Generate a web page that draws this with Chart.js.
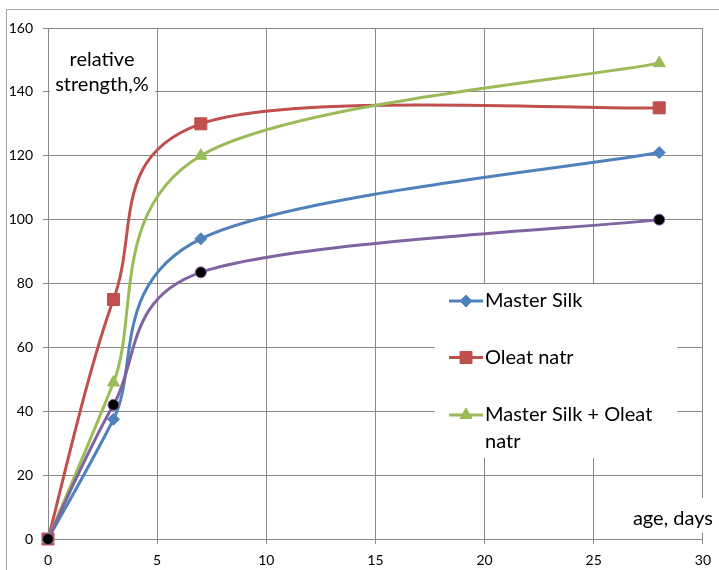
<!DOCTYPE html>
<html>
<head>
<meta charset="utf-8">
<title>relative strength</title>
<script src="https://cdn.jsdelivr.net/npm/chart.js@4.4.1/dist/chart.umd.min.js"></script>
<style>
  html, body { margin: 0; padding: 0; background: #fff; }
  #chart { display: block; }
</style>
</head>
<body>
<canvas id="chart" width="719" height="570"></canvas>
<script>
(function () {
  var days = [0, 3, 7, 28];
  var masterSilk = [0, 37.5, 94, 121];
  var oleatNatr = [0, 75, 130, 135];
  var masterSilkOleat = [0, 49, 120, 149];
  var reference = [0, 42, 83.5, 100];

  var xTicks = [0, 5, 10, 15, 20, 25, 30];
  var yTicks = [0, 20, 40, 60, 80, 100, 120, 140, 160];

  var yTitleLines = ["relative", "strength,%"];
  var xTitle = "age, days";

  var FONT = "Lato, 'Open Sans', sans-serif";
  var GRID = "#898989";

  function points(values) {
    return days.map(function (d, i) {
      return { x: d, y: values[i] };
    });
  }

  /** Excel-like smoothing: arms are (next - prev) / 6, capped at half the segment. */
  var excelSmooth = {
    id: "excelSmooth",
    beforeDatasetDraw: function (chart, args) {
      var meta = args.meta;
      var pts = meta.data;
      if (!meta.dataset || !pts.length) return;
      meta.dataset.updateControlPoints(chart.chartArea, meta.iScale.axis);
      var n = pts.length;
      for (var i = 0; i < n; i++) {
        var p = pts[i];
        var prev = pts[Math.max(i - 1, 0)];
        var next = pts[Math.min(i + 1, n - 1)];
        var dx = (next.x - prev.x) / 6;
        var dy = (next.y - prev.y) / 6;
        var arm = Math.sqrt(dx * dx + dy * dy);
        var halfPrev = Math.sqrt(Math.pow(p.x - prev.x, 2) + Math.pow(p.y - prev.y, 2)) / 2;
        var halfNext = Math.sqrt(Math.pow(next.x - p.x, 2) + Math.pow(next.y - p.y, 2)) / 2;
        var kPrev = arm > halfPrev && arm > 0 ? halfPrev / arm : 1;
        var kNext = arm > halfNext && arm > 0 ? halfNext / arm : 1;
        p.cp1x = p.x - dx * kPrev;
        p.cp1y = p.y - dy * kPrev;
        p.cp2x = p.x + dx * kNext;
        p.cp2y = p.y + dy * kNext;
      }
    },
  };

  var frame = {
    id: "frame",
    beforeDraw: function (chart) {
      var ctx = chart.ctx;
      ctx.save();
      ctx.fillStyle = "#fff";
      ctx.fillRect(0, 0, chart.width, chart.height);
      ctx.strokeStyle = "#a6a6a6";
      ctx.lineWidth = 1;
      ctx.strokeRect(6.5, 9.5, chart.width + 20, chart.height + 20);
      ctx.restore();
    },
  };

  function wrapText(ctx, text, maxWidth) {
    var words = text.split(" ");
    var lines = [];
    var cur = "";
    words.forEach(function (w) {
      var test = cur ? cur + " " + w : w;
      if (cur && ctx.measureText(test).width > maxWidth) {
        lines.push(cur);
        cur = w;
      } else {
        cur = test;
      }
    });
    if (cur) lines.push(cur);
    return lines;
  }

  var labelsAndLegend = {
    id: "labelsAndLegend",
    afterDraw: function (chart) {
      var ctx = chart.ctx;
      ctx.save();

      // axis title boxes inside the plot
      ctx.fillStyle = "#fff";
      ctx.fillRect(50, 30, 105, 63);
      ctx.fillRect(630, 498, 86, 35);
      ctx.fillStyle = "#000";
      ctx.font = "20px " + FONT;
      ctx.textAlign = "center";
      ctx.textBaseline = "alphabetic";
      ctx.fillText(yTitleLines[0], 102, 65.5);
      ctx.fillText(yTitleLines[1], 102, 91);
      ctx.textAlign = "right";
      ctx.fillText(xTitle, 713, 525);

      // legend
      var box = { x: 435, y: 284, w: 242, h: 174 };
      ctx.fillStyle = "#fff";
      ctx.fillRect(box.x, box.y, box.w, box.h);
      var rowY = [301, 357.5, 415];
      var items = chart.data.datasets.filter(function (ds) {
        return ds.label;
      });
      ctx.textAlign = "left";
      ctx.textBaseline = "alphabetic";
      items.forEach(function (ds, i) {
        var y = rowY[i];
        ctx.strokeStyle = ds.borderColor;
        ctx.lineWidth = ds.borderWidth;
        ctx.beginPath();
        ctx.moveTo(449, y);
        ctx.lineTo(483, y);
        ctx.stroke();
        if (Chart.helpers && Chart.helpers.drawPoint) {
          ctx.fillStyle = ds.pointBackgroundColor;
          ctx.strokeStyle = ds.pointBorderColor;
          ctx.lineWidth = ds.pointBorderWidth;
          Chart.helpers.drawPoint(
            ctx,
            { pointStyle: ds.pointStyle, radius: ds.pointRadius, rotation: 0, borderWidth: ds.pointBorderWidth },
            466,
            y
          );
        }
        ctx.fillStyle = "#000";
        ctx.font = "20px " + FONT;
        var lines = wrapText(ctx, ds.label, 186);
        lines.forEach(function (line, j) {
          ctx.fillText(line, 485, y + 6 + j * 27);
        });
      });

      ctx.restore();
    },
  };

  new Chart(document.getElementById("chart"), {
    type: "line",
    data: {
      datasets: [
        {
          label: "Master Silk",
          data: points(masterSilk),
          borderColor: "#4f81bd",
          borderWidth: 3,
          pointStyle: "rectRot",
          pointRadius: 6,
          pointBackgroundColor: "#4f81bd",
          pointBorderColor: "#4f81bd",
          pointBorderWidth: 1,
          clip: false,
          order: 4,
        },
        {
          label: "Oleat natr",
          data: points(oleatNatr),
          borderColor: "#c0504d",
          borderWidth: 3,
          pointStyle: "rect",
          pointRadius: 8.5,
          pointBackgroundColor: "#c0504d",
          pointBorderColor: "#c0504d",
          pointBorderWidth: 1,
          clip: false,
          order: 3,
        },
        {
          label: "Master Silk + Oleat natr",
          data: points(masterSilkOleat),
          borderColor: "#9bbb59",
          borderWidth: 3,
          pointStyle: "triangle",
          pointRadius: 7,
          pointBackgroundColor: "#9bbb59",
          pointBorderColor: "#9bbb59",
          pointBorderWidth: 1,
          clip: false,
          order: 2,
        },
        {
          label: "",
          data: points(reference),
          borderColor: "#8064a2",
          borderWidth: 3,
          pointStyle: "circle",
          pointRadius: 5.5,
          pointBackgroundColor: "#000",
          pointBorderColor: "#8064a2",
          pointBorderWidth: 1,
          clip: false,
          order: 1,
        },
      ],
    },
    options: {
      responsive: false,
      animation: false,
      events: [],
      layout: { padding: { top: 28, right: 12, left: 0, bottom: 0 } },
      plugins: {
        legend: { display: false },
        tooltip: { enabled: false },
      },
      elements: { line: { tension: 0.4 } },
      scales: {
        x: {
          type: "linear",
          min: xTicks[0],
          max: xTicks[xTicks.length - 1],
          afterBuildTicks: function (scale) {
            scale.ticks = xTicks.map(function (v) {
              return { value: v };
            });
          },
          afterFit: function (scale) {
            scale.height = 31;
          },
          grid: { color: GRID, tickLength: 5, tickColor: GRID },
          border: { color: GRID },
          ticks: {
            color: "#000",
            padding: 8,
            maxRotation: 0,
            font: { family: FONT, size: 14 },
          },
        },
        y: {
          min: yTicks[0],
          max: yTicks[yTicks.length - 1],
          afterBuildTicks: function (scale) {
            scale.ticks = yTicks.map(function (v) {
              return { value: v };
            });
          },
          afterFit: function (scale) {
            scale.width = 48;
          },
          grid: { color: GRID, tickLength: 5, tickColor: GRID },
          border: { color: GRID },
          ticks: {
            color: "#000",
            padding: 10,
            font: { family: FONT, size: 14 },
          },
        },
      },
    },
    plugins: [frame, excelSmooth, labelsAndLegend],
  });
})();
</script>
</body>
</html>
